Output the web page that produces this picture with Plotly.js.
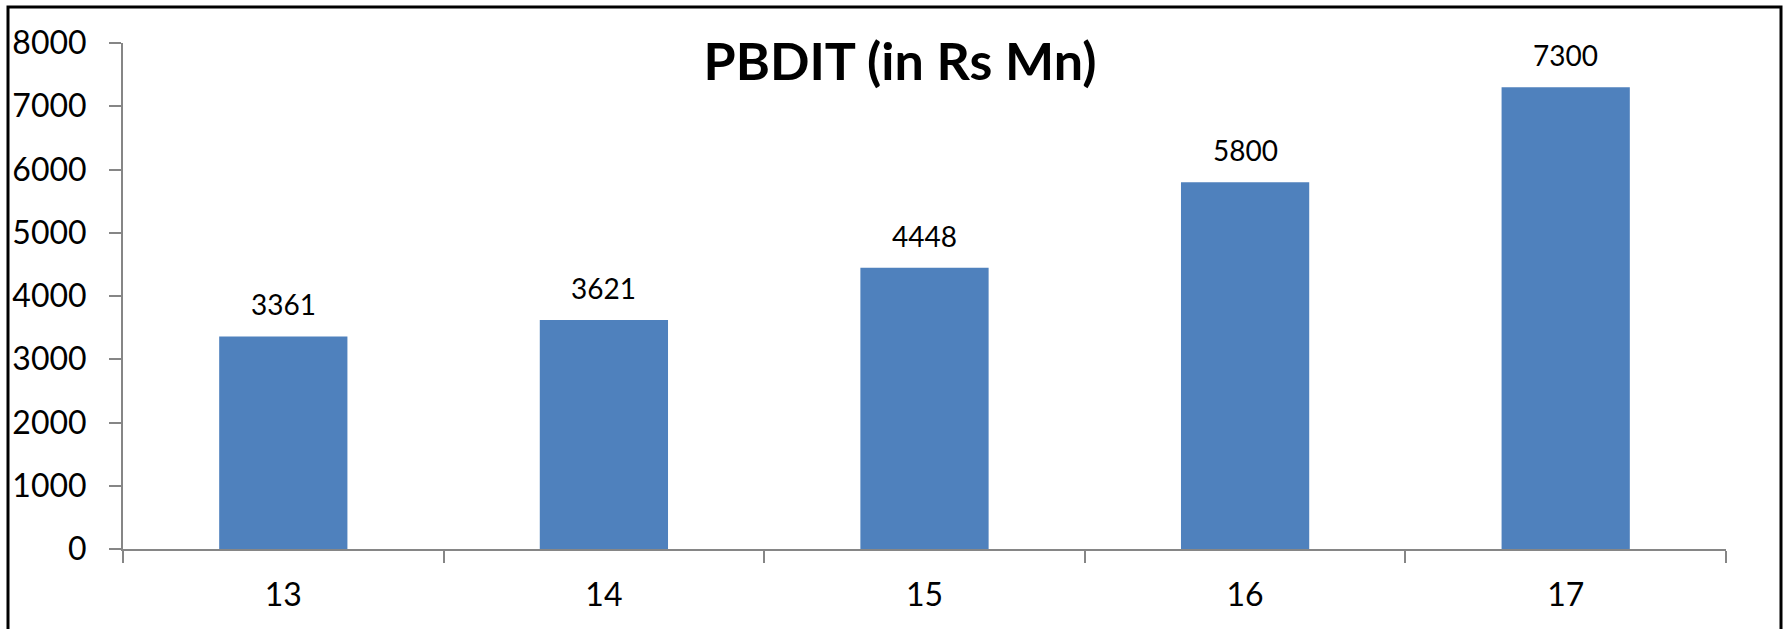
<!DOCTYPE html>
<html>
<head>
<meta charset="utf-8">
<script src="https://cdn.plot.ly/plotly-3.0.1.min.js"></script>
<style>
  html, body { margin: 0; padding: 0; background: #fff; }
  #chart { width: 1789px; height: 629px; }
</style>
</head>
<body>
<div id="chart"></div>
<script>
const categories = ["13", "14", "15", "16", "17"];
const pbdit = [3361, 3621, 4448, 5800, 7300];
const yTicks = [0, 1000, 2000, 3000, 4000, 5000, 6000, 7000, 8000];
const titleText = "PBDIT (in Rs Mn)";

const W = 1789, H = 629;
const mL = 123, mR = 63, mT = 43, mB = 80;
const pw = W - mL - mR, ph = H - mT - mB;
const px = p => (p - mL) / pw;
const py = p => (H - mB - p) / ph;

const trace = {
  type: "bar",
  x: categories,
  y: pbdit,
  marker: { color: "#4F81BD", line: { width: 0 } },
  hoverinfo: "x+y"
};

// category axis: annotations are positioned by category index
const annotations = categories.map((c, i) => ({
  x: i, y: pbdit[i], xref: "x", yref: "y",
  text: String(pbdit[i]),
  showarrow: false, yanchor: "bottom", yshift: 13,
  font: { family: "Lato, 'Open Sans', sans-serif", size: 28, color: "#000" }
}));

const layout = {
  width: W, height: H,
  margin: { l: mL, r: mR, t: mT, b: mB, pad: 0 },
  paper_bgcolor: "#fff", plot_bgcolor: "#fff",
  showlegend: false,
  bargap: 0.6,
  font: { family: "Lato, 'Open Sans', sans-serif", color: "#000" },
  title: {
    text: "<b>" + titleText + "</b>",
    font: { family: "Lato, 'Open Sans', sans-serif", size: 52, color: "#000" },
    x: 900 / W, xref: "container", xanchor: "center",
    y: 1 - 62 / H, yref: "container", yanchor: "middle"
  },
  xaxis: {
    type: "category",
    range: [-0.5, categories.length - 0.5],
    showgrid: false, zeroline: false,
    showline: true, linecolor: "#868686", linewidth: 2,
    ticks: "outside", ticklen: 12, tickwidth: 2, tickcolor: "#868686",
    tickson: "boundaries",
    ticklabelstandoff: 17,
    tickfont: { family: "Lato, 'Open Sans', sans-serif", size: 32, color: "#000" },
    fixedrange: true
  },
  yaxis: {
    range: [0, 8000],
    tickmode: "array", tickvals: yTicks, ticktext: yTicks.map(String),
    showgrid: false, zeroline: false,
    showline: true, linecolor: "#868686", linewidth: 2,
    ticks: "outside", ticklen: 12, tickwidth: 2, tickcolor: "#868686",
    ticklabelstandoff: 16,
    tickfont: { family: "Lato, 'Open Sans', sans-serif", size: 32, color: "#000" },
    fixedrange: true
  },
  annotations: annotations,
  shapes: [{
    type: "rect", xref: "paper", yref: "paper",
    x0: px(8), x1: px(1781), y0: py(660), y1: py(7),
    line: { color: "#000", width: 3 }, fillcolor: "rgba(0,0,0,0)", layer: "above"
  }]
};

Plotly.newPlot("chart", [trace], layout, { displayModeBar: false, staticPlot: true });
</script>
</body>
</html>
